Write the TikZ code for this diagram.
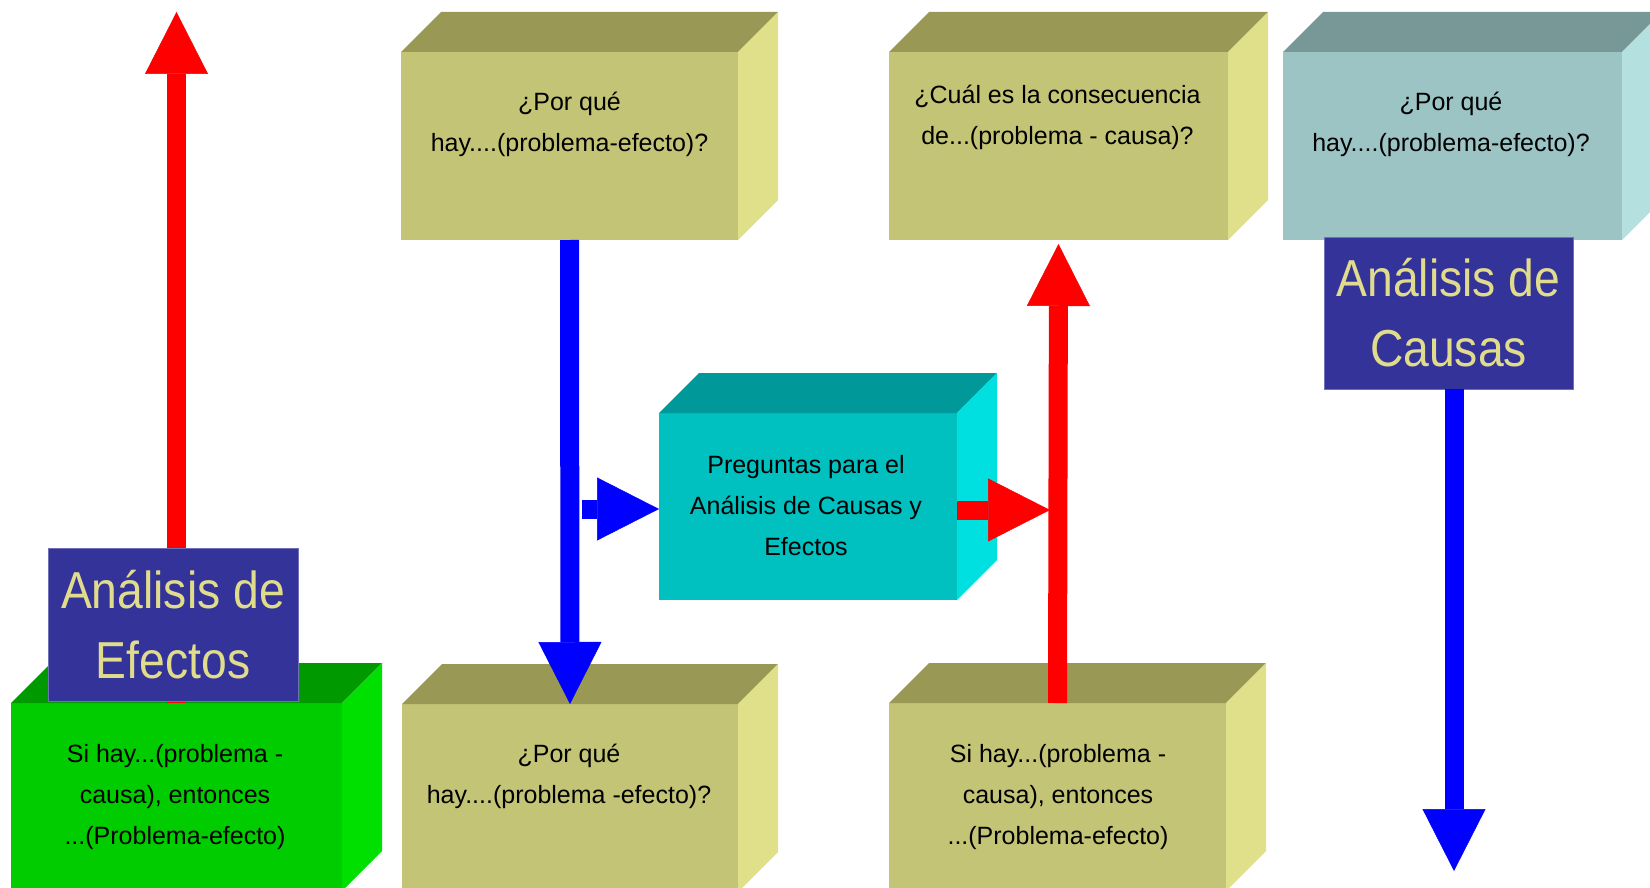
\documentclass[tikz,border=0pt]{standalone}
\usepackage{fontspec}
\setmainfont{Liberation Sans}
\newfontfamily\rotulofont[FakeStretch=0.89]{Liberation Sans}
\usetikzlibrary{arrows.meta,calc}

% box faces
\definecolor{caqui}{HTML}{C4C476}
\definecolor{caquitop}{HTML}{999955}
\definecolor{caquiside}{HTML}{E0E08A}
\definecolor{grisaz}{HTML}{9CC4C4}
\definecolor{grisaztop}{HTML}{789898}
\definecolor{grisazside}{HTML}{B4E0E0}
\definecolor{turq}{HTML}{00C0C0}
\definecolor{turqtop}{HTML}{009898}
\definecolor{turqside}{HTML}{00E0E0}
\definecolor{verde}{HTML}{00CC00}
\definecolor{verdetop}{HTML}{009900}
\definecolor{verdeside}{HTML}{00E000}
% labels and arrows
\definecolor{marino}{HTML}{333399}
\definecolor{letrero}{HTML}{E0DC8C}
\definecolor{rojo}{HTML}{FF0000}
\definecolor{azul}{HTML}{0000FF}

\tikzset{
  frente/.style={rectangle, inner sep=0pt, outer sep=0pt},
  texto/.style={align=center, inner sep=0pt, text=black,
    font=\fontsize{25}{41}\selectfont},
  rotulo/.style={rectangle, fill=marino, draw=marino!70!white, line width=0.8pt,
    inner sep=0pt, outer sep=0pt, align=center, text=letrero,
    font=\rotulofont\fontsize{52}{70}\selectfont},
  flecha/.style={line width=19pt,
    -{Triangle[length=62pt, width=63pt, line width=0.5pt]}},
}

% 3D block: name, centre x, centre y, width, height, front, top, side
\newcommand\cubo[8]{%
  \node[frente, fill=#6, minimum width=#4pt, minimum height=#5pt] (#1) at (#2,#3) {};
  \fill[#7] (#1.north west) -- ++(40,-40) -- ($(#1.north east)+(40,-40)$)
    -- (#1.north east) -- cycle;
  \fill[#8] (#1.north east) -- ++(40,-40) -- ($(#1.south east)+(40,-40)$)
    -- (#1.south east) -- cycle;
}

\begin{document}
\begin{tikzpicture}[x=1pt, y=-1pt]
\useasboundingbox (0,0) rectangle (1650,888);
\fill[white] (0,0) rectangle (1650,888);
\clip (0,0) rectangle (1650,888);

% blocks
\cubo{b1}{569.5}{146}{337}{188}{caqui}{caquitop}{caquiside}
\cubo{b4}{1058.5}{146}{339}{188}{caqui}{caquitop}{caquiside}
\cubo{b6}{1452.5}{146}{339}{188}{grisaz}{grisaztop}{grisazside}
\cubo{c}{808}{506.5}{298}{187}{turq}{turqtop}{turqside}
\cubo{g}{176.5}{797}{331}{188}{verde}{verdetop}{verdeside}
\cubo{b2}{570}{798}{336}{188}{caqui}{caquitop}{caquiside}
\cubo{b3}{1057.5}{797}{337}{188}{caqui}{caquitop}{caquiside}

% block texts
\node[texto] (t1) at (569.5,124) {¿Por qué\\hay....(problema-efecto)?};
\node[texto] (t4) at (1057.5,117.5) {¿Cuál es la consecuencia\\de...(problema - causa)?};
\node[texto] (t6) at (1451,124) {¿Por qué\\hay....(problema-efecto)?};
\node[texto] (tc) at (806,506) {Preguntas para el\\Análisis de Causas y\\Efectos};
\node[texto] (tg) at (175,797) {Si hay...(problema -\\causa), entonces\\...(Problema-efecto)};
\node[texto] (t2) at (569,776) {¿Por qué\\hay....(problema -efecto)?};
\node[texto] (t3) at (1058,797) {Si hay...(problema -\\causa), entonces\\...(Problema-efecto)};

% arrows
\coordinate (p1) at (176.5,12);
\draw[flecha, rojo] (g.north) -- (p1);
\draw[flecha, azul] (b1.south) -- (b2.north);
\coordinate (q1) at (582,509);
\draw[flecha, azul] (q1) -- (q1 -| c.west);
\coordinate (q2) at (1050,510);
\draw[flecha, rojo] (q2 -| c.east) -- (q2);
\draw[flecha, rojo] (b3.north) -- ($(b4.south)+(0,4)$);
\coordinate (q3) at (1454,871);

% headings
\node[rotulo, minimum width=250pt, minimum height=153pt] (le) at (173,624.5) {Análisis de\\Efectos};
\node[rotulo, minimum width=249pt, minimum height=152pt] (lc) at (1448.5,313) {Análisis de\\Causas};
\draw[flecha, azul] (q3 |- lc.south) -- (q3);
\end{tikzpicture}
\end{document}
